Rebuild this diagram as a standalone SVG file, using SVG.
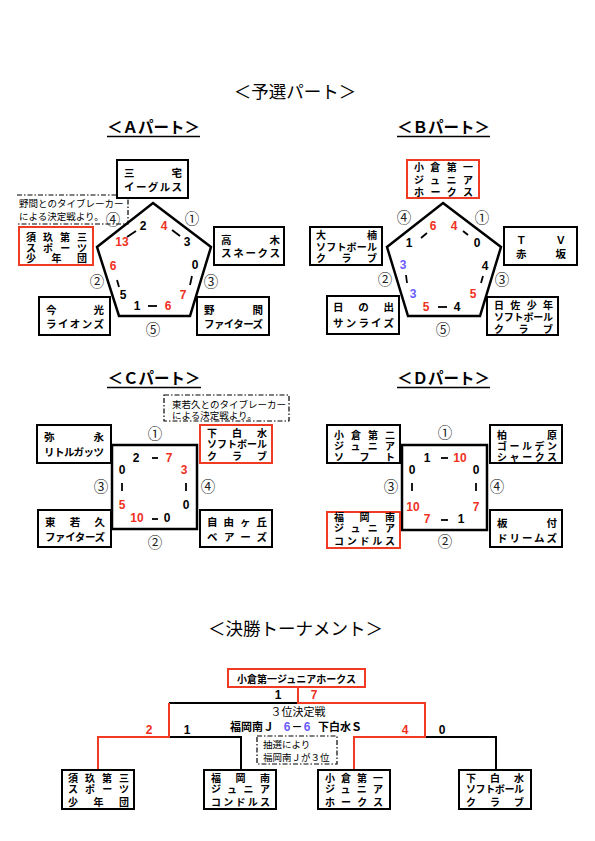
<svg xmlns="http://www.w3.org/2000/svg" width="595" height="841" viewBox="0 0 595 841">
<style>
text{font-family:"Liberation Sans","Noto Sans CJK JP",sans-serif}
.box{fill:#fff;stroke:#000;stroke-width:2}
.rbox{fill:#fff;stroke:#f03a24;stroke-width:2}
.bt{font-size:10.5px;font-weight:bold;fill:#000}
.bt3{font-size:10px;font-weight:bold;fill:#000}
.sc{font-size:12px;font-weight:bold;text-anchor:middle;fill:#000}
.red{fill:#f0301e}
.blue{fill:#6a5cff}
.cn{font-family:"Noto Sans CJK JP",sans-serif;font-size:14.5px;text-anchor:middle;fill:#222}
.shape{fill:none;stroke:#000;stroke-width:2.5;stroke-linejoin:miter}
.dsh{stroke:#000;stroke-width:1.8;fill:none}
.note{fill:none;stroke:#000;stroke-width:1.2;stroke-dasharray:5 2 1.5 2}
.nt{font-size:9.5px;fill:#000}
.h1{font-size:17.5px;text-anchor:middle;fill:#000}
.h2{font-size:15.5px;font-weight:bold;text-anchor:middle;fill:#000}
.ul{stroke:#000;stroke-width:1.5}
.lk{fill:none;stroke:#000;stroke-width:2}
.lr{fill:none;stroke:#f03a24;stroke-width:2}
</style>

<!-- Headers -->
<text class="h1" x="295" y="98">＜予選パート＞</text>
<text class="h2" x="153.5" y="133">＜Ａパート＞</text>
<line class="ul" x1="107" y1="136.5" x2="200" y2="136.5"/>
<text class="h2" x="443.5" y="133">＜Ｂパート＞</text>
<line class="ul" x1="397" y1="136.5" x2="490" y2="136.5"/>
<text class="h2" x="154" y="384">＜Ｃパート＞</text>
<line class="ul" x1="107" y1="387.5" x2="201" y2="387.5"/>
<text class="h2" x="443.5" y="384">＜Ｄパート＞</text>
<line class="ul" x1="397" y1="387.5" x2="490" y2="387.5"/>
<text class="h1" x="295.5" y="635">＜決勝トーナメント＞</text>

<!-- A part shapes -->
<g id="partA-shape">
<polygon class="shape" points="153,203 211,247 190,316 119,316 97,247"/>
<line class="dsh" x1="127" y1="237" x2="136" y2="231"/>
<line class="dsh" x1="172" y1="230" x2="180" y2="236"/>
<line class="dsh" x1="117" y1="280" x2="119" y2="287"/>
<line class="dsh" x1="192" y1="276" x2="190" y2="285"/>
<line class="dsh" x1="148" y1="306" x2="157" y2="306"/>
<text class="sc" x="143" y="230">2</text>
<text class="sc red" x="164" y="230">4</text>
<text class="sc red" x="122" y="246">13</text>
<text class="sc" x="187" y="246">3</text>
<text class="sc red" x="113" y="270">6</text>
<text class="sc" x="123" y="299">5</text>
<text class="sc" x="195" y="269">0</text>
<text class="sc red" x="183" y="299">7</text>
<text class="sc" x="137" y="310">1</text>
<text class="sc red" x="168" y="310">6</text>
<text class="cn" x="192" y="224">①</text>
<text class="cn" x="97" y="287">②</text>
<text class="cn" x="211" y="287">③</text>
<text class="cn" x="113" y="225">④</text>
<text class="cn" x="153" y="335">⑤</text>
</g>
<g id="noteA">
<path class="note" d="M17,195 H128 V224 H17"/>
<text class="nt" x="19" y="207">野間とのタイブレーカー</text>
<text class="nt" x="19" y="220">による決定戦より。</text>
</g>
<g id="miyake">
<rect class="box" x="117" y="160" width="71" height="38"/>
<text class="bt" x="124" y="177" textLength="58" lengthAdjust="spacing">三宅</text>
<text class="bt" x="124" y="191" textLength="58" lengthAdjust="spacing">イーグルス</text>
</g>
<g id="sukuA">
<rect class="rbox" x="19" y="227" width="74" height="38"/>
<text class="bt3" x="26" y="241" textLength="61" lengthAdjust="spacing">須玖第三</text>
<text class="bt3" x="26" y="251.5" textLength="61" lengthAdjust="spacing">スポーツ</text>
<text class="bt3" x="26" y="262" textLength="61" lengthAdjust="spacing">少年団</text>
</g>
<g id="takagi">
<rect class="box" x="214" y="227" width="70" height="38"/>
<text class="bt" x="221" y="244" textLength="59" lengthAdjust="spacing">高木</text>
<text class="bt" x="221" y="257" textLength="59" lengthAdjust="spacing">スネークス</text>
</g>
<g id="imamitsu">
<rect class="box" x="39" y="297" width="71" height="38"/>
<text class="bt" x="46" y="314" textLength="58" lengthAdjust="spacing">今光</text>
<text class="bt" x="46" y="328" textLength="58" lengthAdjust="spacing">ライオンズ</text>
</g>
<g id="noma">
<rect class="box" x="197" y="297" width="72" height="38"/>
<text class="bt" x="204" y="314" textLength="59" lengthAdjust="spacing">野間</text>
<text class="bt" x="204" y="328" textLength="59" lengthAdjust="spacing">ファイターズ</text>
</g>

<!-- B part -->
<g id="partB-shape">
<polygon class="shape" points="443,203 501,247 480,316 408,316 387,247"/>
<line class="dsh" x1="421" y1="238" x2="427" y2="233"/>
<line class="dsh" x1="463" y1="231" x2="468" y2="235"/>
<line class="dsh" x1="406" y1="275" x2="407" y2="283"/>
<line class="dsh" x1="483" y1="276" x2="481" y2="283"/>
<line class="dsh" x1="438" y1="307" x2="447" y2="307"/>
<text class="sc red" x="433" y="230">6</text>
<text class="sc red" x="454" y="230">4</text>
<text class="sc" x="409" y="247">1</text>
<text class="sc" x="477" y="247">0</text>
<text class="sc blue" x="403" y="269">3</text>
<text class="sc blue" x="413" y="298">3</text>
<text class="sc" x="485" y="270">4</text>
<text class="sc red" x="473" y="298">5</text>
<text class="sc red" x="426" y="311">5</text>
<text class="sc" x="457" y="311">4</text>
<text class="cn" x="482" y="223">①</text>
<text class="cn" x="385" y="285">②</text>
<text class="cn" x="502" y="285">③</text>
<text class="cn" x="404" y="223">④</text>
<text class="cn" x="443" y="335">⑤</text>
</g>
<g id="kokura1B">
<rect class="rbox" x="407" y="160" width="72" height="38"/>
<text class="bt3" x="414" y="171" textLength="59" lengthAdjust="spacing">小倉第一</text>
<text class="bt3" x="414" y="184" textLength="59" lengthAdjust="spacing">ジュニア</text>
<text class="bt3" x="414" y="196" textLength="59" lengthAdjust="spacing">ホークス</text>
</g>
<g id="tv">
<rect class="box" x="504" y="227" width="73" height="38"/>
<text class="bt" x="516" y="244" textLength="50" lengthAdjust="spacing">ＴＶ</text>
<text class="bt" x="516" y="258" textLength="50" lengthAdjust="spacing">赤坂</text>
</g>
<g id="ogusu">
<rect class="box" x="310" y="227" width="72" height="38"/>
<text class="bt3" x="316" y="239" textLength="61" lengthAdjust="spacing">大楠</text>
<text class="bt3" x="316" y="251" textLength="61" lengthAdjust="spacing">ソフトボール</text>
<text class="bt3" x="316" y="262" textLength="61" lengthAdjust="spacing">クラブ</text>
</g>
<g id="hinode">
<rect class="box" x="327" y="296" width="72" height="38"/>
<text class="bt" x="333" y="311" textLength="61" lengthAdjust="spacing">日の出</text>
<text class="bt" x="333" y="327" textLength="61" lengthAdjust="spacing">サンライズ</text>
</g>
<g id="hisa">
<rect class="box" x="487" y="297" width="71" height="38"/>
<text class="bt3" x="494" y="309" textLength="59" lengthAdjust="spacing">日佐少年</text>
<text class="bt3" x="494" y="321" textLength="59" lengthAdjust="spacing">ソフトボール</text>
<text class="bt3" x="494" y="333" textLength="59" lengthAdjust="spacing">クラブ</text>
</g>

<!-- C part -->
<g id="partC-shape">
<rect class="shape" x="112" y="445" width="85" height="84"/>
<line class="dsh" x1="152" y1="458" x2="158" y2="458"/>
<line class="dsh" x1="152" y1="519" x2="158" y2="519"/>
<line class="dsh" x1="122" y1="483" x2="122" y2="491"/>
<line class="dsh" x1="186" y1="483" x2="186" y2="491"/>
<text class="sc" x="136" y="462">2</text>
<text class="sc red" x="169" y="462">7</text>
<text class="sc" x="122" y="474">0</text>
<text class="sc red" x="184" y="474">3</text>
<text class="sc red" x="122" y="509">5</text>
<text class="sc" x="186" y="509">0</text>
<text class="sc red" x="137" y="522">10</text>
<text class="sc" x="167" y="522">0</text>
<text class="cn" x="155" y="439">①</text>
<text class="cn" x="155" y="548">②</text>
<text class="cn" x="101" y="492">③</text>
<text class="cn" x="208" y="492">④</text>
</g>
<g id="noteC">
<rect class="note" x="164" y="395" width="125" height="26"/>
<text class="nt" x="172" y="407.5">東若久とのタイブレーカー</text>
<text class="nt" x="172" y="418.5">による決定戦より。</text>
</g>
<g id="yanaga">
<rect class="box" x="37" y="425" width="74" height="38"/>
<text class="bt" x="44" y="441" textLength="60" lengthAdjust="spacing">弥永</text>
<text class="bt" x="44" y="456" textLength="60" lengthAdjust="spacing">リトルガッツ</text>
</g>
<g id="shimoshiromizuC">
<rect class="rbox" x="200" y="425" width="72" height="38"/>
<text class="bt3" x="207" y="437" textLength="60" lengthAdjust="spacing">下白水</text>
<text class="bt3" x="207" y="448" textLength="60" lengthAdjust="spacing">ソフトボール</text>
<text class="bt3" x="207" y="460" textLength="60" lengthAdjust="spacing">クラブ</text>
</g>
<g id="higashiwakahisa">
<rect class="box" x="38" y="510" width="73" height="37"/>
<text class="bt" x="45" y="526" textLength="60" lengthAdjust="spacing">東若久</text>
<text class="bt" x="45" y="541" textLength="60" lengthAdjust="spacing">ファイターズ</text>
</g>
<g id="jiyugaoka">
<rect class="box" x="200" y="510" width="72" height="37"/>
<text class="bt" x="207" y="526" textLength="60" lengthAdjust="spacing">自由ヶ丘</text>
<text class="bt" x="207" y="541" textLength="60" lengthAdjust="spacing">ベアーズ</text>
</g>

<!-- D part -->
<g id="partD-shape">
<rect class="shape" x="402" y="445" width="85" height="85"/>
<line class="dsh" x1="441" y1="458" x2="448" y2="458"/>
<line class="dsh" x1="441" y1="520" x2="448" y2="520"/>
<line class="dsh" x1="412" y1="483" x2="412" y2="491"/>
<line class="dsh" x1="476" y1="483" x2="476" y2="491"/>
<text class="sc" x="427" y="462">1</text>
<text class="sc red" x="460" y="462">10</text>
<text class="sc" x="412" y="474">0</text>
<text class="sc" x="476" y="474">0</text>
<text class="sc red" x="413" y="511">10</text>
<text class="sc red" x="476" y="511">7</text>
<text class="sc red" x="427" y="523">7</text>
<text class="sc" x="461" y="523">1</text>
<text class="cn" x="445" y="438">①</text>
<text class="cn" x="445" y="547">②</text>
<text class="cn" x="391" y="492">③</text>
<text class="cn" x="497" y="492">④</text>
</g>
<g id="kokura2">
<rect class="box" x="327" y="425" width="73" height="38"/>
<text class="bt3" x="334" y="439" textLength="61" lengthAdjust="spacing">小倉第二</text>
<text class="bt3" x="334" y="449.5" textLength="61" lengthAdjust="spacing">ジュニア</text>
<text class="bt3" x="334" y="461" textLength="61" lengthAdjust="spacing">ソフト</text>
</g>
<g id="kashiwara">
<rect class="box" x="490" y="425" width="72" height="38"/>
<text class="bt3" x="497" y="439" textLength="60" lengthAdjust="spacing">柏原</text>
<text class="bt3" x="497" y="450" textLength="60" lengthAdjust="spacing">ゴールデン</text>
<text class="bt3" x="497" y="461" textLength="60" lengthAdjust="spacing">シャークス</text>
</g>
<g id="fukuokaminamiD">
<rect class="rbox" x="327" y="512" width="73" height="36"/>
<text class="bt3" x="334" y="521" textLength="61" lengthAdjust="spacing">福岡南</text>
<text class="bt3" x="334" y="532" textLength="61" lengthAdjust="spacing">ジュニア</text>
<text class="bt3" x="334" y="545" textLength="61" lengthAdjust="spacing">コンドルス</text>
</g>
<g id="itazuke">
<rect class="box" x="490" y="510" width="72" height="37"/>
<text class="bt" x="497" y="527" textLength="60" lengthAdjust="spacing">板付</text>
<text class="bt" x="497" y="542" textLength="60" lengthAdjust="spacing">ドリームズ</text>
</g>

<!-- Tournament connectors -->
<g id="connectors">
<path class="lk" d="M169,703 H298"/>
<path class="lk" d="M169,737 H241 V770"/>
<path class="lk" d="M425,737 H496 V770"/>
<path class="lr" d="M298,687 V703 H425 V737 H354 V770"/>
<path class="lr" d="M169,703 V737 H98 V770"/>
</g>
<g id="tournament-labels">
<text class="sc" x="278" y="699">1</text>
<text class="sc red" x="314" y="699">7</text>
<text class="sc red" x="149" y="734">2</text>
<text class="sc" x="187" y="734">1</text>
<text class="sc red" x="405" y="734">4</text>
<text class="sc" x="442" y="734">0</text>
<text x="298" y="716" style="font-size:11px;text-anchor:middle">３位決定戦</text>
<text x="274" y="731" style="font-size:11px;font-weight:bold;text-anchor:end">福岡南Ｊ</text>
<text class="sc blue" x="287" y="731">6</text>
<text x="297" y="731" style="font-size:11px;font-weight:bold;text-anchor:middle">－</text>
<text class="sc blue" x="307" y="731">6</text>
<text x="318" y="731" style="font-size:11px;font-weight:bold">下白水Ｓ</text>
</g>
<g id="noteT">
<rect class="note" x="257" y="736" width="80" height="28"/>
<text class="nt" x="263" y="747.5">抽選により</text>
<text class="nt" x="263" y="760.5">福岡南Ｊが３位</text>
</g>
<g id="champion">
<rect class="rbox" x="228" y="669" width="137" height="18"/>
<text x="296.5" y="682.5" style="font-size:10px;font-weight:bold;text-anchor:middle">小倉第一ジュニアホークス</text>
</g>
<g id="t-suku">
<rect class="box" x="62" y="770" width="72" height="39"/>
<text class="bt3" x="68" y="782" textLength="61" lengthAdjust="spacing">須玖第三</text>
<text class="bt3" x="68" y="793" textLength="61" lengthAdjust="spacing">スポーツ</text>
<text class="bt3" x="68" y="806" textLength="61" lengthAdjust="spacing">少年団</text>
</g>
<g id="t-fukuokaminami">
<rect class="box" x="204" y="770" width="72" height="39"/>
<text class="bt3" x="211" y="782" textLength="59" lengthAdjust="spacing">福岡南</text>
<text class="bt3" x="211" y="793" textLength="59" lengthAdjust="spacing">ジュニア</text>
<text class="bt3" x="211" y="806" textLength="59" lengthAdjust="spacing">コンドルス</text>
</g>
<g id="t-kokura1">
<rect class="box" x="318" y="770" width="72" height="39"/>
<text class="bt3" x="325" y="782" textLength="58" lengthAdjust="spacing">小倉第一</text>
<text class="bt3" x="325" y="793" textLength="58" lengthAdjust="spacing">ジュニア</text>
<text class="bt3" x="325" y="806" textLength="58" lengthAdjust="spacing">ホークス</text>
</g>
<g id="t-shimoshiromizu">
<rect class="box" x="459" y="770" width="72" height="39"/>
<text class="bt3" x="466" y="782" textLength="58" lengthAdjust="spacing">下白水</text>
<text class="bt3" x="466" y="793" textLength="58" lengthAdjust="spacing">ソフトボール</text>
<text class="bt3" x="466" y="806" textLength="58" lengthAdjust="spacing">クラブ</text>
</g>
</svg>
